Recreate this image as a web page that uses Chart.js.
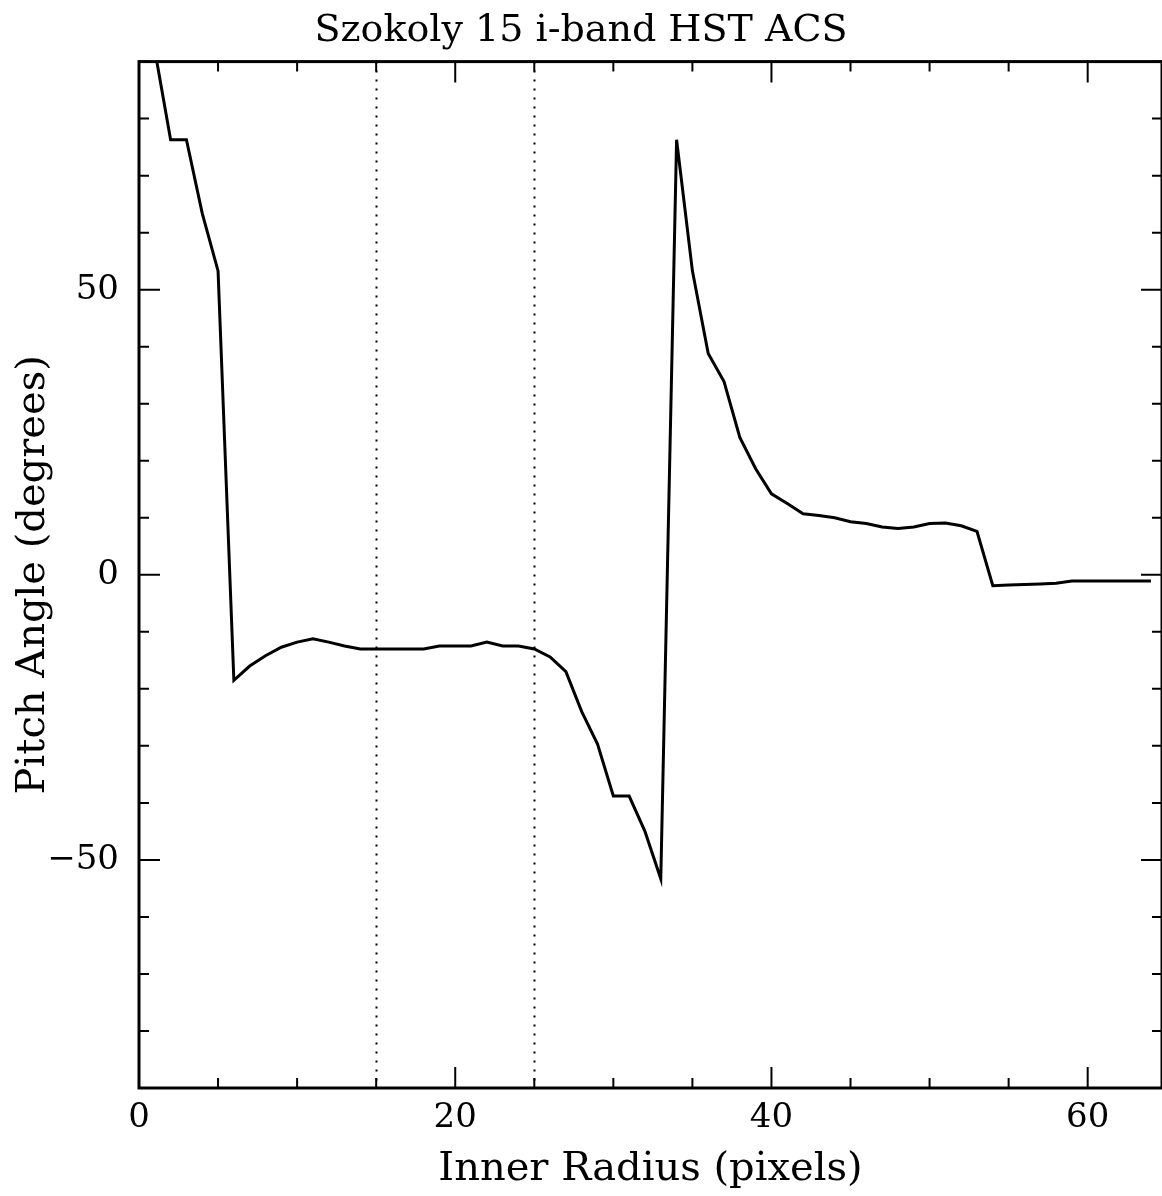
<!DOCTYPE html>
<html>
<head>
<meta charset="utf-8">
<script src="https://cdn.jsdelivr.net/npm/chart.js@4/dist/chart.umd.min.js"></script>
<style>
  html, body { margin: 0; padding: 0; background: #fff; }
  #wrap { width: 1162px; height: 1196px; position: relative; }
</style>
</head>
<body>
<div id="wrap"><canvas id="pitch-chart"></canvas></div>
<script>
// Pitch angle vs inner radius
const radius = [1, 2, 3, 4, 5, 6, 7, 8, 9, 10, 11, 12, 13, 14, 15, 16, 17, 18, 19, 20,
    21, 22, 23, 24, 25, 26, 27, 28, 29, 30, 31, 32, 33, 34, 35, 36, 37, 38, 39, 40,
    41, 42, 43, 44, 45, 46, 47, 48, 49, 50, 51, 52, 53, 54, 55, 56, 57, 58, 59, 60,
    61, 62, 63, 64];
const pitchAngle = [92, 76.3, 76.3, 63.4, 53.3, -18.5, -16, -14.2, -12.7, -11.8, -11.2, -11.8, -12.5, -13, -13, -13, -13, -13, -12.5, -12.5,
    -12.5, -11.8, -12.5, -12.5, -13, -14.4, -17, -24, -29.7, -38.8, -38.8, -45, -53.3, 76.3, 53.3, 38.8, 33.9, 24.1, 18.6, 14.2,
    12.5, 10.7, 10.4, 10, 9.3, 9, 8.4, 8.1, 8.4, 9, 9.1, 8.6, 7.6, -1.9, -1.8, -1.7, -1.6, -1.5, -1.1, -1.1,
    -1.1, -1.1, -1.1, -1.1];
const markerRadii = [15, 25];
const xMajorTicks = [0, 20, 40, 60];
const yMajorTicks = [-50, 0, 50];

const FONT = '"DejaVu Serif", serif';

// inward ticks on all four sides plus frame and dotted markers
const framePlugin = {
    id: 'frame',
    afterDatasetsDraw(chart) {
        const ctx = chart.ctx;
        const a = chart.chartArea;
        const xs = chart.scales.x;
        const ys = chart.scales.y;
        ctx.save();
        // dotted vertical markers
        ctx.strokeStyle = '#000';
        ctx.lineWidth = 2;
        ctx.setLineDash([2, 7]);
        markerRadii.forEach(r => {
            const px = Math.round(xs.getPixelForValue(r)) + 0.5;
            ctx.beginPath();
            ctx.moveTo(px, a.top);
            ctx.lineTo(px, a.bottom);
            ctx.stroke();
        });
        ctx.setLineDash([]);
        ctx.lineWidth = 2;
        for (let v = 0; v <= xs.max; v += 5) {
            const px = xs.getPixelForValue(v);
            const len = xMajorTicks.includes(v) ? 21 : 10;
            ctx.beginPath();
            ctx.moveTo(px, a.bottom); ctx.lineTo(px, a.bottom - len);
            ctx.moveTo(px, a.top); ctx.lineTo(px, a.top + len);
            ctx.stroke();
        }
        for (let v = -90; v <= 90; v += 10) {
            const py = ys.getPixelForValue(v);
            const len = yMajorTicks.includes(v) ? 21 : 10;
            ctx.beginPath();
            ctx.moveTo(a.left, py); ctx.lineTo(a.left + len, py);
            ctx.moveTo(a.right, py); ctx.lineTo(a.right - len, py);
            ctx.stroke();
        }
        ctx.lineWidth = 3;
        ctx.strokeRect(a.left, a.top, a.right - a.left, a.bottom - a.top);
        ctx.restore();
    }
};

const ctx = document.getElementById('pitch-chart').getContext('2d');
const pitchChart = new Chart(ctx, {
    type: 'line',
    data: {
        datasets: [{
            label: 'Pitch Angle',
            data: radius.map((r, i) => ({ x: r, y: pitchAngle[i] })),
            borderColor: '#000',
            borderWidth: 3,
            pointRadius: 0,
            tension: 0,
            fill: false
        }]
    },
    options: {
        responsive: true,
        maintainAspectRatio: false,
        animation: false,
        layout: { padding: 0 },
        plugins: {
            legend: { display: false },
            tooltip: { enabled: false },
            title: {
                display: true,
                text: 'Szokoly 15 i-band HST ACS',
                color: '#000',
                font: { family: FONT, size: 38, weight: 'normal', lineHeight: 1.2 },
                padding: { top: 8, bottom: 8 }
            }
        },
        scales: {
            x: {
                type: 'linear',
                min: 0,
                max: 64.7,
                grid: { display: false, drawTicks: false },
                border: { display: false },
                afterBuildTicks: axis => { axis.ticks = xMajorTicks.map(v => ({ value: v })); },
                afterFit: axis => { axis.height = 108; },
                ticks: {
                    color: '#000',
                    padding: 10,
                    maxRotation: 0,
                    font: { family: FONT, size: 34 }
                },
                title: {
                    display: true,
                    text: 'Inner Radius (pixels)',
                    color: '#000',
                    font: { family: FONT, size: 40 },
                    padding: { top: 0, bottom: 2 }
                }
            },
            y: {
                type: 'linear',
                min: -90,
                max: 90,
                grid: { display: false, drawTicks: false },
                border: { display: false },
                afterBuildTicks: axis => { axis.ticks = yMajorTicks.map(v => ({ value: v })); },
                afterFit: axis => { axis.width = 139; },
                ticks: {
                    color: '#000',
                    padding: 20,
                    font: { family: FONT, size: 34 },
                    callback: v => v < 0 ? '\u2212' + Math.abs(v) : String(v)
                },
                title: {
                    display: true,
                    text: 'Pitch Angle (degrees)',
                    color: '#000',
                    font: { family: FONT, size: 40 },
                    padding: { top: 10, bottom: 0 }
                }
            }
        }
    },
    plugins: [framePlugin]
});
</script>
</body>
</html>
